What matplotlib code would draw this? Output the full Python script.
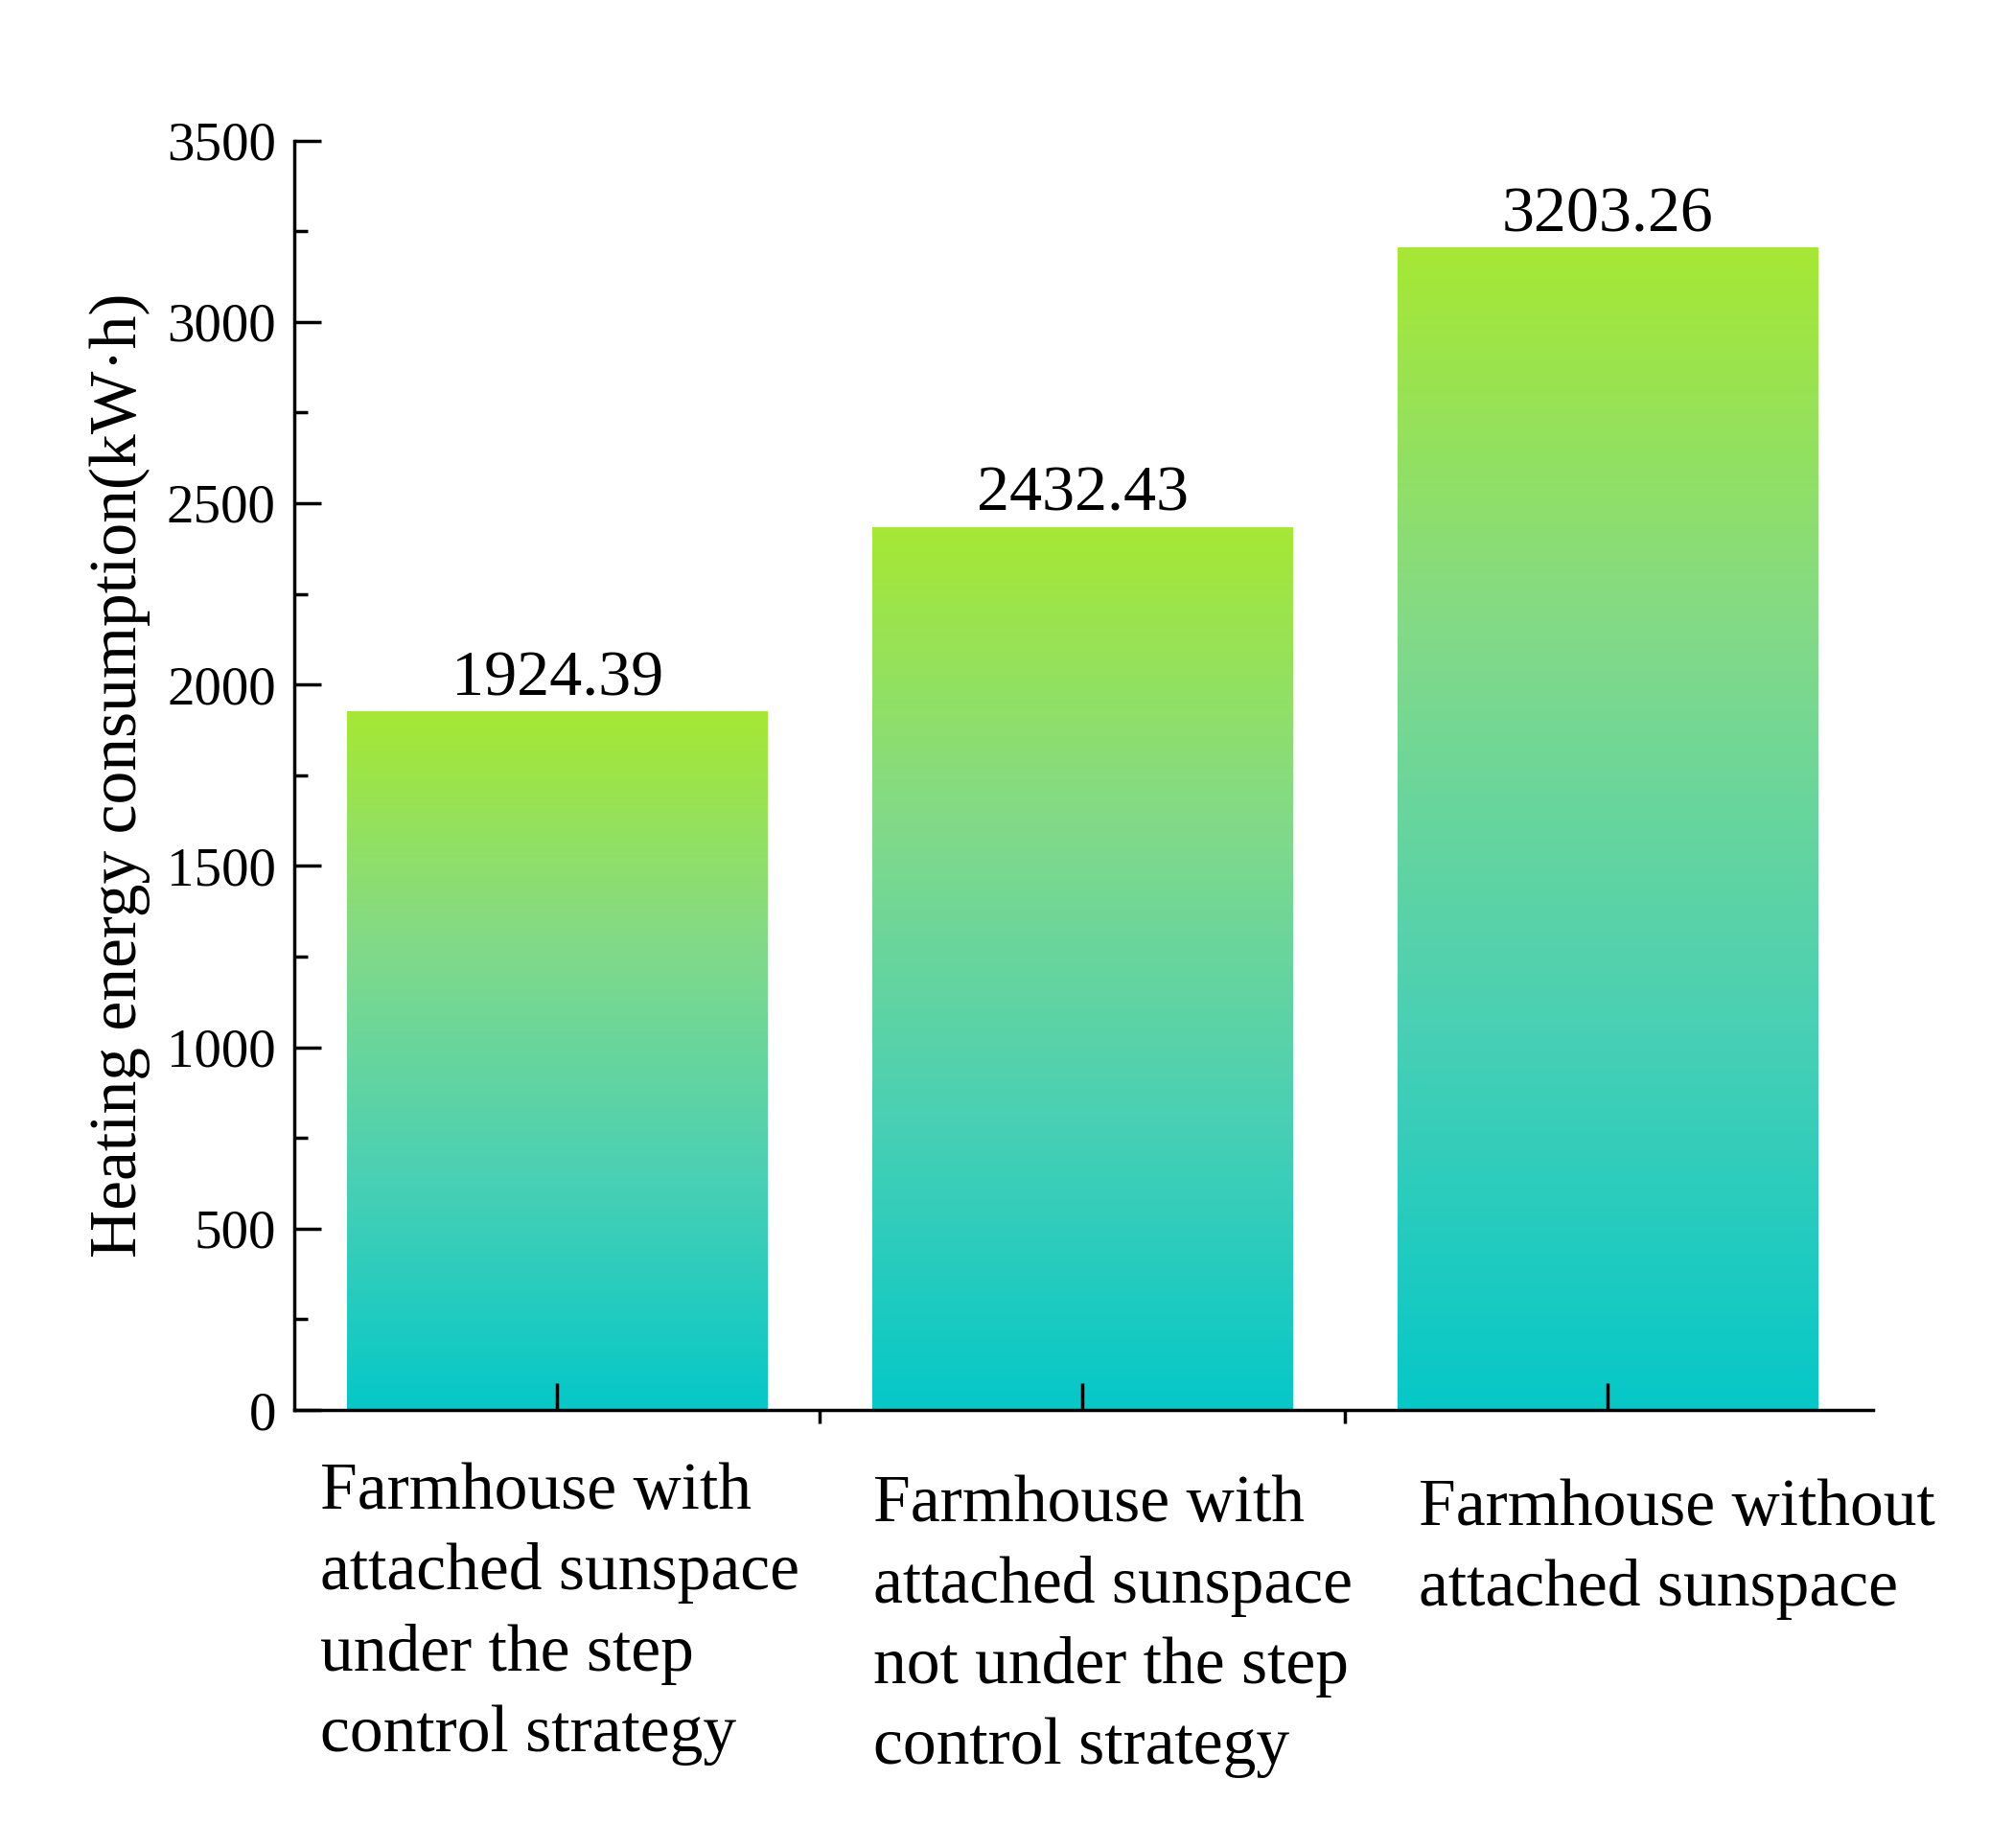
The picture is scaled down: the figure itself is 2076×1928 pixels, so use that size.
import matplotlib
matplotlib.use("Agg")
import matplotlib.pyplot as plt
import numpy as np
from matplotlib.colors import LinearSegmentedColormap
from matplotlib.ticker import MultipleLocator

categories = ["Farmhouse with\nattached sunspace\nunder the step\ncontrol strategy",
              "Farmhouse with\nattached sunspace\nnot under the step\ncontrol strategy",
              "Farmhouse without\nattached sunspace"]
values = [1924.39, 2432.43, 3203.26]
value_labels = ["1924.39", "2432.43", "3203.26"]

plt.rcParams['font.family'] = ['Liberation Serif', 'DejaVu Serif']
fig = plt.figure(figsize=(20.76, 19.28), dpi=100)
ax = fig.add_axes([0.148, 0.237, 0.793, 0.687])
cmap = LinearSegmentedColormap.from_list("g", ["#05c8c8", "#4ad0b4", "#82da88", "#a6e833"])
grad = np.linspace(0, 1, 256).reshape(-1, 1)
w = 0.8
x = np.arange(len(values))
for xi, v, lab in zip(x, values, value_labels):
    ax.imshow(grad, extent=[xi - w/2, xi + w/2, 0, v], origin='lower', cmap=cmap, aspect='auto', zorder=1)
    ax.text(xi, v + 10, lab, ha='center', va='bottom', fontsize=49)
ax.set_xlim(-0.5, 2.505)
ax.set_ylim(0, 3500)
for s in ['top', 'right']:
    ax.spines[s].set_visible(False)
for s in ['left', 'bottom']:
    ax.spines[s].set_linewidth(2.5)
ax.set_xticks(x)
ax.set_xticklabels([])
ax.set_xticks([0.5, 1.5], minor=True)
ax.tick_params(axis='x', which='major', direction='in', length=20, width=2.5)
ax.tick_params(axis='x', which='minor', direction='out', length=10, width=2.5)
ax.yaxis.set_major_locator(MultipleLocator(500))
ax.yaxis.set_minor_locator(MultipleLocator(250))
ax.tick_params(axis='y', which='major', direction='in', length=20, width=2.5, labelsize=41, pad=14)
ax.tick_params(axis='y', which='minor', direction='in', length=10, width=2.5)
ax.set_ylabel("Heating energy consumption(kW·h)", fontsize=50, labelpad=12)
pos = [(0.161, 0.209), (0.439, 0.202), (0.713, 0.200)]
for (px, py), c in zip(pos, categories):
    fig.text(px, py, c, ha='left', va='top', fontsize=50, linespacing=1.42)
fig.savefig("out.png", dpi=100)
